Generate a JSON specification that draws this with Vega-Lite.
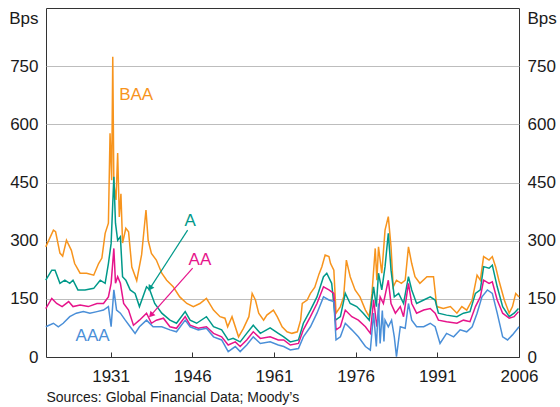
{
"$schema":"https://vega.github.io/schema/vega-lite/v6.json",
"width":473,"height":349,
"autosize":{"type":"none"},
"padding":{"left":46,"top":8,"right":41,"bottom":50},
"config":{"view":{"stroke":"#333333","strokeWidth":1},"font":"Liberation Sans","text":{"font":"Liberation Sans"}},
"datasets":{
"BAA":[[1919.1,284],[1920.5,327],[1920.9,323],[1921.7,268],[1922.2,260],[1922.9,301],[1923.8,275],[1924.4,241],[1925.4,216],[1926.6,216],[1927.9,211],[1928.8,241],[1929.4,255],[1930.0,319],[1930.6,345],[1930.9,577],[1931.2,456],[1931.4,774],[1931.6,448],[1932.0,405],[1932.3,526],[1932.6,361],[1932.9,421],[1933.2,294],[1933.8,332],[1934.3,323],[1934.9,232],[1935.8,197],[1936.7,264],[1937.5,379],[1937.9,301],[1938.5,267],[1939.4,250],[1940.4,216],[1941.3,198],[1942.5,181],[1943.7,155],[1945.0,138],[1946.2,130],[1947.4,138],[1948.6,151],[1949.9,121],[1951.1,104],[1952.0,100],[1952.5,78],[1953.3,104],[1954.5,52],[1955.4,74],[1956.4,104],[1957.0,164],[1957.6,147],[1958.2,113],[1959.1,95],[1959.7,108],[1960.9,121],[1961.6,104],[1962.5,78],[1963.4,65],[1964.3,61],[1965.3,65],[1965.9,95],[1966.2,138],[1967.1,147],[1967.7,164],[1968.5,180],[1969.3,215],[1969.8,233],[1970.4,263],[1971.1,259],[1971.4,241],[1972.0,224],[1972.4,113],[1973.2,130],[1973.8,155],[1974.3,250],[1975.0,207],[1975.9,173],[1976.8,155],[1977.8,121],[1978.5,104],[1979.0,164],[1979.6,280],[1979.9,198],[1980.2,284],[1980.8,216],[1981.4,327],[1982.0,362],[1982.5,284],[1982.9,181],[1983.5,198],[1984.4,190],[1985.1,198],[1985.7,284],[1986.3,241],[1986.9,207],[1987.8,190],[1989.1,207],[1990.3,207],[1990.9,130],[1992.1,125],[1993.4,130],[1994.6,113],[1995.5,130],[1996.4,121],[1997.4,147],[1998.3,211],[1998.9,198],[1999.5,259],[2000.5,250],[2001.1,259],[2001.7,233],[2002.3,198],[2003.3,147],[2004.2,113],[2004.8,130],[2005.4,164],[2006.0,155]],
"A":[[1919.1,198],[1920.2,224],[1920.8,224],[1921.7,190],[1922.6,198],[1923.5,190],[1924.1,198],[1925.0,173],[1926.3,173],[1927.9,177],[1929.1,198],[1930.0,190],[1930.6,241],[1931.1,293],[1931.6,465],[1931.9,345],[1932.3,301],[1932.8,310],[1933.2,207],[1933.8,198],[1934.6,173],[1935.5,164],[1936.3,130],[1937.6,181],[1938.2,173],[1939.1,138],[1940.4,113],[1941.9,95],[1943.1,87],[1944.7,117],[1945.6,95],[1946.8,87],[1948.6,104],[1949.9,78],[1951.4,70],[1952.6,44],[1953.5,48],[1954.8,39],[1956.0,61],[1957.2,82],[1958.5,61],[1960.3,75],[1961.8,61],[1962.8,52],[1964.0,39],[1965.5,44],[1966.4,87],[1967.7,121],[1968.9,155],[1970.1,207],[1970.7,216],[1971.6,190],[1972.3,95],[1973.2,104],[1974.1,164],[1975.0,138],[1976.2,130],[1977.4,113],[1978.5,95],[1979.3,181],[1979.8,130],[1980.2,216],[1980.8,173],[1981.4,233],[1982.0,319],[1982.5,224],[1983.1,155],[1983.9,164],[1984.8,138],[1985.7,207],[1986.3,173],[1987.2,138],[1988.5,147],[1989.7,155],[1990.6,147],[1991.2,113],[1992.7,108],[1994.6,104],[1995.8,113],[1997.0,117],[1998.0,164],[1998.9,173],[1999.5,233],[2000.5,229],[2001.1,237],[2002.0,181],[2003.0,130],[2004.2,104],[2005.1,113],[2005.9,125]],
"AA":[[1919.1,125],[1920.2,151],[1921.1,138],[1922.1,130],[1923.3,143],[1924.1,130],[1925.4,134],[1926.9,130],[1928.5,138],[1929.7,138],[1930.6,155],[1931.1,190],[1931.6,280],[1931.9,190],[1932.3,207],[1932.8,190],[1933.4,138],[1934.3,121],[1935.2,82],[1936.3,95],[1937.6,113],[1938.5,87],[1939.4,95],[1940.7,100],[1941.9,78],[1943.1,74],[1944.7,104],[1945.6,82],[1947.1,74],[1948.6,78],[1949.9,61],[1951.4,52],[1952.6,31],[1953.9,39],[1954.8,27],[1956.0,44],[1957.2,65],[1958.5,48],[1960.3,52],[1961.8,44],[1962.8,44],[1964.0,31],[1965.5,35],[1966.4,70],[1967.7,104],[1968.9,138],[1970.1,181],[1971.1,173],[1972.0,164],[1972.4,70],[1973.2,78],[1974.1,121],[1975.3,104],[1976.5,95],[1977.8,78],[1978.7,61],[1979.3,147],[1979.9,78],[1980.5,155],[1981.1,138],[1982.0,198],[1982.5,138],[1983.3,113],[1984.2,130],[1984.8,104],[1985.7,190],[1986.3,138],[1987.2,113],[1988.5,121],[1989.7,125],[1990.6,113],[1991.2,95],[1992.7,91],[1994.6,87],[1995.8,95],[1997.0,91],[1998.0,130],[1998.9,155],[1999.5,198],[2000.5,190],[2001.1,194],[2002.0,147],[2003.0,113],[2004.2,100],[2005.1,104],[2005.9,117]],
"AAA":[[1919.1,78],[1920.5,87],[1921.4,78],[1922.3,87],[1923.5,104],[1924.7,113],[1926.0,117],[1927.2,113],[1928.5,117],[1929.7,121],[1930.6,130],[1931.1,78],[1931.6,173],[1932.1,121],[1932.8,113],[1933.7,95],[1934.6,78],[1935.5,61],[1936.3,78],[1937.6,95],[1938.8,78],[1940.4,78],[1941.9,70],[1943.1,65],[1944.7,95],[1945.6,78],[1947.1,70],[1948.6,74],[1949.9,52],[1951.4,44],[1952.6,14],[1953.9,27],[1954.8,14],[1956.0,31],[1957.2,52],[1958.5,35],[1960.3,39],[1961.8,31],[1962.8,27],[1964.0,18],[1965.5,22],[1966.4,52],[1967.7,78],[1968.9,113],[1970.1,155],[1971.1,147],[1972.0,143],[1972.4,44],[1973.2,52],[1974.1,87],[1975.3,70],[1976.5,52],[1977.8,27],[1978.7,18],[1979.3,113],[1979.8,27],[1980.2,138],[1980.5,35],[1980.9,120],[1981.2,40],[1981.4,95],[1982.0,78],[1982.6,95],[1983.1,52],[1983.5,1],[1984.2,78],[1985.1,74],[1985.7,138],[1986.3,95],[1987.2,78],[1988.5,78],[1989.7,87],[1990.6,78],[1991.5,35],[1992.7,61],[1994.0,52],[1995.2,70],[1996.4,65],[1997.4,78],[1998.3,113],[1999.2,155],[2000.2,173],[2001.1,164],[2002.0,113],[2003.0,52],[2003.9,44],[2004.8,57],[2006.0,78]],
"notes":[{"s":"BAA","t":1935.7,"v":675,"label":"BAA"},{"s":"A","t":1945.6,"v":350,"label":"A"},{"s":"AA","t":1947.4,"v":250,"label":"AA"},{"s":"AAA","t":1927.7,"v":53,"label":"AAA"}],
"arrows":[{"s":"A","t1":1945.15,"v1":327,"t2":1938.23,"v2":177},{"s":"AA","t1":1946.07,"v1":229,"t2":1938.42,"v2":108}]
},
"layer":[
{"data":{"name":"BAA"},"transform":[{"calculate":"datum[0]","as":"t"},{"calculate":"datum[1]","as":"v"}],
 "mark":{"type":"line","strokeWidth":1.5,"color":"#F7941D"},
 "encoding":{
  "x":{"field":"t","type":"quantitative","scale":{"domain":[1919.14,2006],"nice":false,"zero":false},
   "axis":{"values":[1931,1946,1961,1976,1991,2006],"format":"d","grid":false,"labelFontSize":17,"labelColor":"#1a1a1a","labelPadding":16,"tickSize":-5,"tickColor":"#333333","domainColor":"#333333","labelFlush":false,
    "title":"Sources: Global Financial Data; Moody’s","titleFontSize":14,"titleFontWeight":"normal","titleColor":"#1a1a1a","titleAnchor":"start","titleAlign":"left","titlePadding":6}},
  "y":{"field":"v","type":"quantitative","scale":{"domain":[0,900],"nice":false},
   "axis":{"orient":"left","values":[0,150,300,450,600,750],"grid":true,"gridColor":"#bdbdbd","gridWidth":1.2,"domain":false,"ticks":false,"labelFontSize":17,"labelColor":"#1a1a1a","labelPadding":8,
    "title":"Bps","titleAngle":0,"titleFontSize":17,"titleFontWeight":"normal","titleColor":"#1a1a1a","titleX":-8,"titleY":10,"titleAlign":"right","titleBaseline":"middle"}}}},
{"data":{"name":"A"},"transform":[{"calculate":"datum[0]","as":"t"},{"calculate":"datum[1]","as":"v"}],
 "mark":{"type":"line","strokeWidth":1.5,"color":"#00998A"},
 "encoding":{"x":{"field":"t","type":"quantitative"},"y":{"field":"v","type":"quantitative",
   "axis":{"orient":"right","values":[0,150,300,450,600,750],"grid":false,"domain":false,"ticks":false,"labelFontSize":17,"labelColor":"#1a1a1a","labelPadding":8,
    "title":"Bps","titleAngle":0,"titleFontSize":17,"titleFontWeight":"normal","titleColor":"#1a1a1a","titleX":8,"titleY":10,"titleAlign":"left","titleBaseline":"middle"}}}},
{"data":{"name":"AA"},"transform":[{"calculate":"datum[0]","as":"t"},{"calculate":"datum[1]","as":"v"}],
 "mark":{"type":"line","strokeWidth":1.5,"color":"#E6148B"},
 "encoding":{"x":{"field":"t","type":"quantitative"},"y":{"field":"v","type":"quantitative","axis":null}}},
{"data":{"name":"AAA"},"transform":[{"calculate":"datum[0]","as":"t"},{"calculate":"datum[1]","as":"v"}],
 "mark":{"type":"line","strokeWidth":1.5,"color":"#4A8FD8"},
 "encoding":{"x":{"field":"t","type":"quantitative"},"y":{"field":"v","type":"quantitative","axis":null}}},
{"data":{"name":"arrows"},"mark":{"type":"rule","strokeWidth":1.2},
 "encoding":{"x":{"field":"t1","type":"quantitative"},"y":{"field":"v1","type":"quantitative","axis":null},"x2":{"field":"t2"},"y2":{"field":"v2"},
  "color":{"field":"s","type":"nominal","scale":{"domain":["BAA","A","AA","AAA"],"range":["#F7941D","#00998A","#E6148B","#4A8FD8"]},"legend":null}}},
{"data":{"name":"arrows"},"transform":[{"filter":"datum.s==='A'"}],"mark":{"type":"point","shape":"triangle-up","filled":true,"opacity":1,"size":45,"angle":213},
 "encoding":{"x":{"field":"t2","type":"quantitative"},"y":{"field":"v2","type":"quantitative","axis":null},"color":{"field":"s","type":"nominal","legend":null}}},
{"data":{"name":"arrows"},"transform":[{"filter":"datum.s==='AA'"}],"mark":{"type":"point","shape":"triangle-up","filled":true,"opacity":1,"size":45,"angle":222},
 "encoding":{"x":{"field":"t2","type":"quantitative"},"y":{"field":"v2","type":"quantitative","axis":null},"color":{"field":"s","type":"nominal","legend":null}}},
{"data":{"name":"notes"},"mark":{"type":"text","fontSize":17,"align":"center","baseline":"middle"},
 "encoding":{"x":{"field":"t","type":"quantitative"},"y":{"field":"v","type":"quantitative","axis":null},"text":{"field":"label"},"color":{"field":"s","type":"nominal","legend":null}}}
],
"resolve":{"axis":{"y":"independent"}}
}
